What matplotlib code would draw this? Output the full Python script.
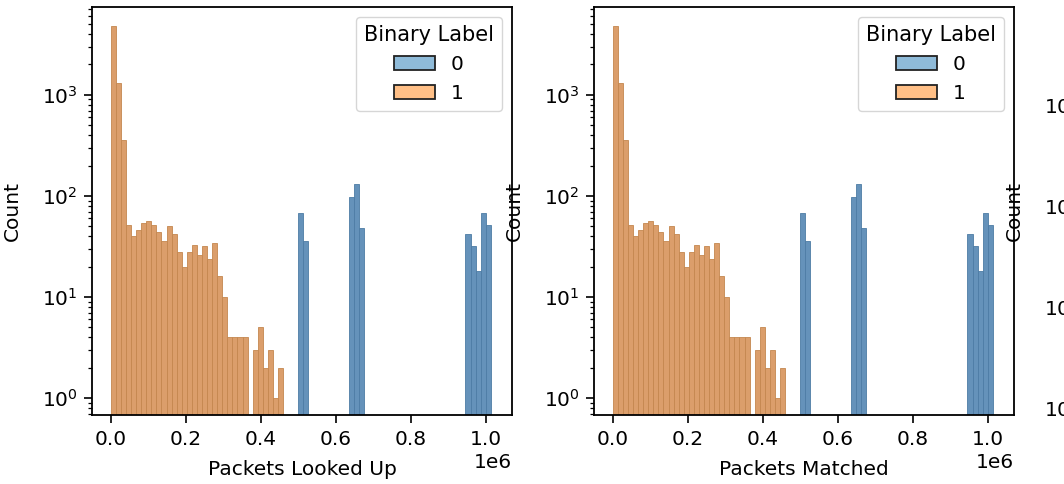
import numpy as np
import matplotlib
matplotlib.use("Agg")
import matplotlib.pyplot as plt
from matplotlib.patches import Patch

# histogram counts, shared bins (75 bins from 0 to ~1.0125e6)
x_max = 1.0125e6
n_bins = 75

# label 1 (orange) occupies bins 0..33
label1_counts = [4800, 1300, 360, 52, 40, 46, 54, 56, 52, 44,
                 36, 50, 42, 28, 20, 28, 33, 26, 32, 24,
                 34, 16, 10, 4, 4, 4, 4, 0, 3, 5,
                 2, 3, 1, 2]

# label 0 (blue): bin index and count
label0_bins = [37, 38, 47, 48, 49, 70, 71, 72, 73, 74]
label0_counts = [68, 36, 98, 130, 48, 42, 32, 18, 68, 52]

xlabels = ["Packets Looked Up", "Packets Matched"]
legend_title = "Binary Label"
hue_names = ["0", "1"]

plt.rcParams["font.family"] = "DejaVu Sans"
plt.rcParams["font.size"] = 14.5
plt.rcParams["axes.linewidth"] = 1.3
plt.rcParams["xtick.major.size"] = 5.5
plt.rcParams["ytick.major.size"] = 5.5
plt.rcParams["ytick.minor.size"] = 3.2
plt.rcParams["xtick.major.width"] = 1.2
plt.rcParams["ytick.major.width"] = 1.2
plt.rcParams["ytick.minor.width"] = 0.9
plt.rcParams["xtick.major.pad"] = 5
plt.rcParams["ytick.major.pad"] = 5

W, H = 1064, 484
fig = plt.figure(figsize=(W / 100, H / 100), dpi=100)

edges = np.linspace(0, x_max, n_bins + 1)
width = edges[1] - edges[0]

orange_face = "#db9e6b"
orange_edge = "#c4874f"
blue_face = "#6592ba"
blue_edge = "#4d7ca5"


def draw_panel(ax, xlabel):
    ax.set_yscale("log")
    c1 = np.array(label1_counts, dtype=float)
    idx1 = np.arange(len(c1))
    keep = c1 > 0
    ax.bar(edges[idx1[keep]], c1[keep], width=width, align="edge",
           color=orange_face, edgecolor=orange_edge, linewidth=0.6)
    ax.bar(edges[np.array(label0_bins)], label0_counts, width=width, align="edge",
           color=blue_face, edgecolor=blue_edge, linewidth=0.6)
    ax.set_xlim(-0.05e6, 1.069e6)
    ax.set_ylim(0.68, 7400)
    ax.set_xticks([0, 0.2e6, 0.4e6, 0.6e6, 0.8e6, 1.0e6])
    ax.set_xlabel(xlabel, labelpad=8)
    ax.set_ylabel("Count", labelpad=14)
    ax.xaxis.get_offset_text().set_y(-0.04)
    handles = [Patch(facecolor="#8fbbd9", edgecolor="#222222", linewidth=1.3),
               Patch(facecolor="#ffbf86", edgecolor="#222222", linewidth=1.3)]
    ax.legend(handles, hue_names, title=legend_title, loc="upper right",
              fontsize=14.5, title_fontsize=15)


ax_w = 420 / W
ax_h = 408 / H
bottom = (H - 415) / H

ax1 = fig.add_axes([92 / W, bottom, ax_w, ax_h])
draw_panel(ax1, xlabels[0])

ax2 = fig.add_axes([594 / W, bottom, ax_w, ax_h])
draw_panel(ax2, xlabels[1])

# third panel, mostly off the right edge of the picture
ax3 = fig.add_axes([1094 / W, bottom, ax_w, ax_h])
ax3.set_yscale("log")
ax3.set_ylim(0.85, 9300)
ax3.set_ylabel("Count", labelpad=14)
ax3.set_xticks([])

fig.savefig("out.png", dpi=100)
